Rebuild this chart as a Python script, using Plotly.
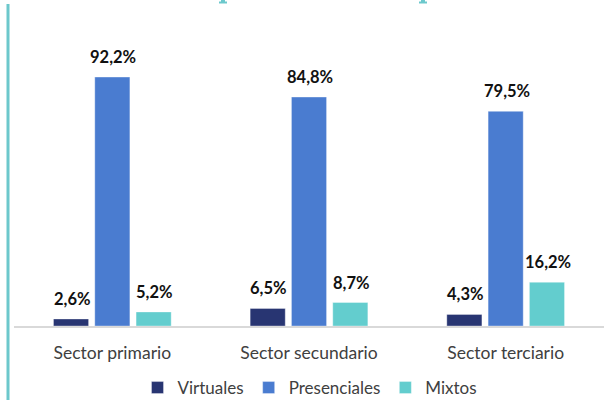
import plotly.graph_objects as go

# Share of companies by work modality in each economic sector (%)
sectors = ["Sector primario", "Sector secundario", "Sector terciario"]
virtuales = [2.6, 6.5, 4.3]
presenciales = [92.2, 84.8, 79.5]
mixtos = [5.2, 8.7, 16.2]

series = [
    ("Virtuales", virtuales, "#283572"),
    ("Presenciales", presenciales, "#4A7CD0"),
    ("Mixtos", mixtos, "#63CDCE"),
]

def pct(v):
    return f"{v:.1f}%".replace(".", ",")

W, H = 604, 402
ml, mr, mt, mb = 14, 0, 56, 76
pw, ph = W - ml - mr, H - mt - mb
BARGAP, GROUPGAP = 0.37, 0.15

fig = go.Figure()
for name, vals, color in series:
    fig.add_trace(go.Bar(
        name=name,
        x=sectors,
        y=vals,
        marker=dict(color=color, line=dict(color="rgba(255,255,255,0.35)", width=1)),
        cliponaxis=False,
    ))

# value labels above each bar, shifted to its slot within the group
slot = pw / len(sectors) * (1 - BARGAP) / len(series)
annotations = []
for i, (name, vals, color) in enumerate(series):
    for cat, v in zip(sectors, vals):
        annotations.append(dict(
            x=cat, y=v, xref="x", yref="y", text=pct(v), showarrow=False,
            xshift=(i - 1) * slot + 1, yshift=8, yanchor="bottom",
            font=dict(family="Lato", size=16.5, color="#111111", weight="bold"),
        ))

def py(pix):
    # pixel row -> paper y
    return (H - mb - pix) / ph

def px(pix):
    # pixel column -> paper x
    return (pix - ml) / pw

shapes = [
    # teal accent rule on the left
    dict(type="line", xref="paper", yref="paper",
         x0=px(8), x1=px(8), y0=py(4), y1=py(400),
         line=dict(color="#6CC8CC", width=3)),
]
# descender strokes of the heading letters peeking in at the top edge
for cx in (223, 423):
    shapes.append(dict(type="rect", xref="paper", yref="paper",
                       x0=px(cx - 2), x1=px(cx + 2), y0=py(2), y1=py(-2),
                       fillcolor="#6CC8CC", line=dict(width=0)))
    shapes.append(dict(type="rect", xref="paper", yref="paper",
                       x0=px(cx - 4), x1=px(cx + 4), y0=py(3.5), y1=py(1.5),
                       fillcolor="#6CC8CC", line=dict(width=0)))

fig.update_layout(
    width=W, height=H,
    margin=dict(l=ml, r=mr, t=mt, b=mb, pad=0),
    paper_bgcolor="white", plot_bgcolor="white",
    barmode="group", bargap=BARGAP, bargroupgap=GROUPGAP,
    font=dict(family="Lato", color="#404040"),
    showlegend=True,
    legend=dict(orientation="h", x=310 / W, xanchor="center", xref="container",
                y=1 - 388 / H, yanchor="middle", yref="container",
                font=dict(size=17, color="#404040"), traceorder="normal",
                itemwidth=30),
    xaxis=dict(showgrid=False, showline=True, linecolor="#D9D9D9", linewidth=2,
               ticks="outside", ticklen=10, tickcolor="rgba(0,0,0,0)",
               tickfont=dict(size=17.5, color="#404040")),
    yaxis=dict(range=[0, 100], visible=False, showgrid=False, zeroline=False),
    shapes=shapes,
    annotations=annotations,
)

fig.write_html("out.html")
